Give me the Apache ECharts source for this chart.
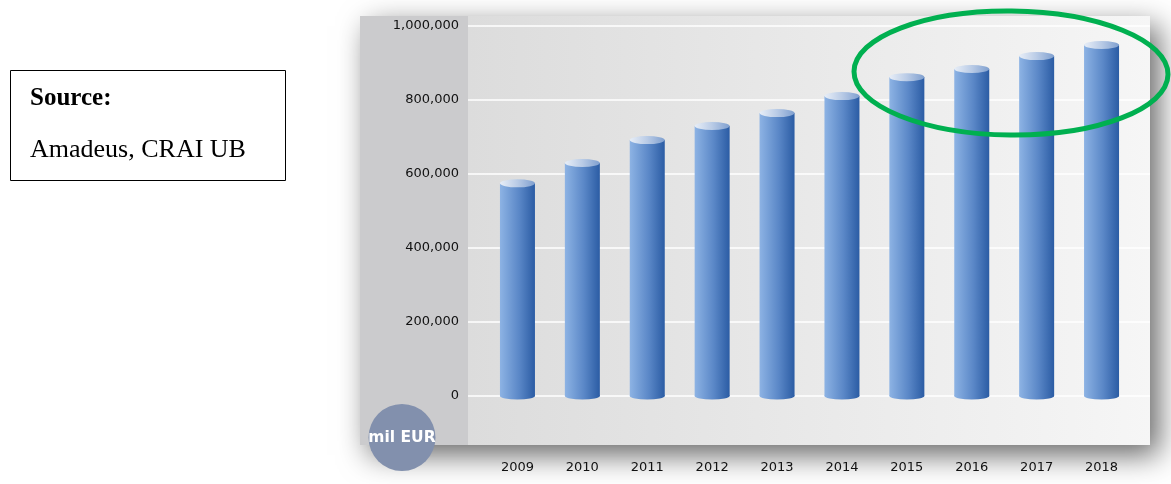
<!DOCTYPE html>
<html>
<head>
<meta charset="utf-8">
<script src="https://cdn.jsdelivr.net/npm/echarts@6/dist/echarts.min.js"></script>
<style>
html,body{margin:0;padding:0;background:#fff;}
#chart{width:1171px;height:484px;}
</style>
</head>
<body>
<div id="chart"></div>
<script>
const years = ['2009','2010','2011','2012','2013','2014','2015','2016','2017','2018'];
const values = [575000, 630000, 692000, 730000, 765000, 811000, 862000, 884000, 919000, 949000];
const yMin = 0, yMax = 1000000, yStep = 200000;
const unitLabel = 'mil EUR';
const sourceTitle = 'Source:';
const sourceText = 'Amadeus, CRAI UB';

const chart = echarts.init(document.getElementById('chart'));
const fmt = v => String(v).replace(/\B(?=(\d{3})+(?!\d))/g, ',');
const bodyGrad = new echarts.graphic.LinearGradient(0,0,1,0,[
  {offset:0,color:'#8db3e4'},{offset:0.55,color:'#5a87c7'},{offset:1,color:'#2b5ca4'}]);
const topGrad = new echarts.graphic.LinearGradient(0,0,1,0,[
  {offset:0,color:'#e8eef7'},{offset:0.5,color:'#b9cbe6'},{offset:1,color:'#7f9fcf'}]);
const lbl = {fontFamily:'DejaVu Sans', fontSize:13, color:'#111'};

chart.setOption({
  animation:false,
  backgroundColor:'#fff',
  grid:[
    {left:468, top:26, width:682, height:370},
    {left:485, top:26, width:649, height:370}
  ],
  xAxis:[
    {gridIndex:0, type:'category', data:years, show:false},
    {gridIndex:1, type:'category', data:years,
     axisLine:{show:false}, axisTick:{show:false}, splitLine:{show:false},
     axisLabel:Object.assign({margin:65}, lbl)}
  ],
  yAxis:[
    {gridIndex:0, type:'value', min:yMin, max:yMax, interval:yStep,
     axisLine:{show:false}, axisTick:{show:false},
     axisLabel:Object.assign({margin:9, formatter:fmt}, lbl),
     splitLine:{show:true, lineStyle:{color:'#ffffff', width:1.5}}},
    {gridIndex:1, type:'value', min:yMin, max:yMax, interval:yStep, show:false,
     splitLine:{show:false}}
  ],
  series:[
    {type:'pictorialBar', xAxisIndex:1, yAxisIndex:1, data:values,
     symbol:'circle', symbolSize:[35,7], symbolPosition:'start', symbolOffset:[0,'50%'],
     itemStyle:{color:bodyGrad}, z:1, silent:true},
    {type:'bar', xAxisIndex:1, yAxisIndex:1, data:values, barWidth:35,
     itemStyle:{color:bodyGrad}, z:2, silent:true},
    {type:'pictorialBar', xAxisIndex:1, yAxisIndex:1, data:values,
     symbol:'circle', symbolSize:[35,8], symbolPosition:'end', symbolOffset:[0,'-50%'],
     itemStyle:{color:topGrad, borderColor:'rgba(90,130,190,0.6)', borderWidth:0.5}, z:3, silent:true}
  ],
  graphic:[
    {type:'rect', z:-10, shape:{x:360,y:16,width:790,height:429},
     style:{fill:'#dddddd', shadowBlur:28, shadowOffsetX:9, shadowOffsetY:10, shadowColor:'rgba(0,0,0,0.6)'}},
    {type:'rect', z:-9, shape:{x:360,y:16,width:108,height:429}, style:{fill:'#cbcbcd'}},
    {type:'rect', z:-9, shape:{x:468,y:16,width:682,height:429},
     style:{fill:new echarts.graphic.LinearGradient(0,0,1,0,[{offset:0,color:'#dcdcdc'},{offset:1,color:'#f6f6f6'}])}},
    {type:'circle', z:100, shape:{cx:402, cy:437.5, r:33.5}, style:{fill:'#8290ad'}},
    {type:'text', z:101, x:402, y:438, style:{text:unitLabel, fill:'#fff', font:'bold 15.5px "DejaVu Sans"', align:'center', verticalAlign:'middle'}},
    {type:'rect', z:50, shape:{x:10.5,y:70.5,width:275,height:110}, style:{fill:'#fff', stroke:'#000', lineWidth:1}},
    {type:'text', z:51, x:30, y:99, style:{text:sourceTitle, fill:'#000', font:'bold 25px "Liberation Serif"', verticalAlign:'middle'}},
    {type:'text', z:51, x:30, y:150, style:{text:sourceText, fill:'#000', font:'26px "Liberation Serif"', verticalAlign:'middle'}},
    {type:'ellipse', z:100, x:1011, y:73, rotation:-0.01, shape:{cx:0, cy:0, rx:157, ry:62},
     style:{fill:'none', stroke:'#00b050', lineWidth:5}}
  ]
});
</script>
</body>
</html>
